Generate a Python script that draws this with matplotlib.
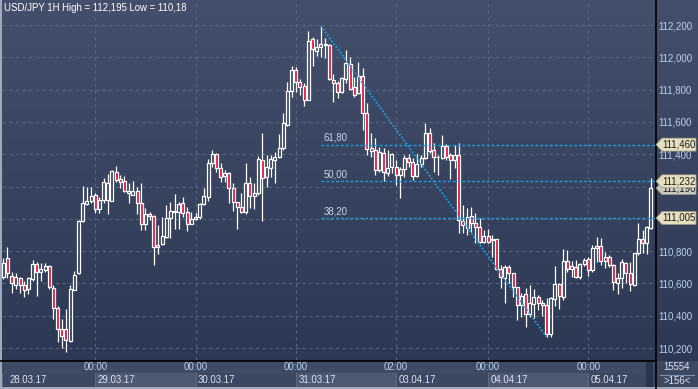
import numpy as np
import matplotlib
matplotlib.use('Agg')
from matplotlib import pyplot as plt
from matplotlib.patches import Polygon, Rectangle
from matplotlib.lines import Line2D
from matplotlib.colors import LinearSegmentedColormap
from matplotlib.transforms import blended_transform_factory

# USD/JPY hourly candles, 28.03.17 03:00 -> 05.04.17 14:00
open_ = [110.641, 110.755, 110.647, 110.592, 110.633, 110.590, 110.563, 110.625, 110.718, 110.668,
         110.683, 110.707, 110.569, 110.451, 110.321, 110.315, 110.245, 110.557, 110.662, 110.988,
         111.093, 111.109, 111.145, 111.062, 111.116, 111.118, 111.110, 111.290, 111.244, 111.234,
         111.162, 111.149, 111.170, 111.095, 110.967, 111.033, 111.017, 110.840, 110.842, 110.890,
         111.003, 111.044, 111.042, 111.100, 111.042, 110.970, 110.997, 111.010, 111.092, 111.137,
         111.343, 111.399, 111.312, 111.267, 111.282, 111.189, 111.102, 111.075, 111.044, 111.220,
         111.140, 111.162, 111.364, 111.257, 111.312, 111.364, 111.380, 111.436, 111.580, 111.792,
         111.921, 111.849, 111.822, 111.736, 112.112, 112.040, 112.061, 112.075, 112.076, 111.859,
         111.839, 111.787, 111.863, 111.958, 111.814, 111.777, 111.884, 111.653, 111.436, 111.426,
         111.302, 111.410, 111.282, 111.319, 111.319, 111.270, 111.307, 111.374, 111.353, 111.267,
         111.339, 111.378, 111.529, 111.426, 111.382, 111.374, 111.450, 111.395, 111.364, 111.395,
         110.988, 110.946, 111.017, 110.972, 110.951, 110.858, 110.893, 110.866, 110.873, 110.687,
         110.631, 110.700, 110.662, 110.576, 110.466, 110.532, 110.408, 110.470, 110.513, 110.480,
         110.466, 110.290, 110.501, 110.594, 110.518, 110.741, 110.690, 110.700, 110.637, 110.718,
         110.749, 110.683, 110.817, 110.834, 110.766, 110.766, 110.714, 110.600, 110.631, 110.724,
         110.662, 110.590, 110.786, 110.873, 110.848, 110.941]
high = [110.755, 110.823, 110.668, 110.662, 110.641, 110.614, 110.637, 110.744, 110.734, 110.724,
        110.724, 110.714, 110.590, 110.460, 110.377, 110.439, 110.590, 110.678, 110.992, 111.203,
        111.195, 111.195, 111.162, 111.135, 111.250, 111.277, 111.300, 111.328, 111.269, 111.265,
        111.224, 111.234, 111.195, 111.219, 111.070, 111.044, 111.021, 110.960, 111.012, 111.086,
        111.107, 111.154, 111.107, 111.137, 111.075, 111.044, 111.034, 111.096, 111.188, 111.368,
        111.426, 111.405, 111.343, 111.302, 111.292, 111.220, 111.106, 111.162, 111.343, 111.261,
        111.220, 111.389, 111.529, 111.395, 111.395, 111.416, 111.525, 111.653, 111.847, 111.946,
        111.942, 111.864, 111.839, 112.165, 112.128, 112.111, 112.195, 112.120, 112.082, 111.896,
        111.855, 111.880, 112.045, 112.003, 111.880, 111.969, 111.932, 111.715, 111.529, 111.498,
        111.446, 111.436, 111.426, 111.410, 111.364, 111.323, 111.395, 111.399, 111.374, 111.401,
        111.395, 111.591, 111.560, 111.467, 111.395, 111.518, 111.463, 111.410, 111.457, 111.471,
        111.086, 111.065, 111.075, 111.038, 111.003, 110.931, 110.935, 110.900, 110.873, 110.714,
        110.714, 110.714, 110.666, 110.580, 110.538, 110.569, 110.590, 110.565, 110.528, 110.497,
        110.507, 110.518, 110.707, 110.604, 110.811, 110.807, 110.741, 110.745, 110.724, 110.755,
        110.761, 110.838, 110.890, 110.880, 110.796, 110.776, 110.720, 110.666, 110.749, 110.735,
        110.735, 110.790, 110.976, 110.931, 110.955, 111.250]
low = [110.625, 110.631, 110.538, 110.563, 110.538, 110.513, 110.534, 110.614, 110.524, 110.617,
       110.670, 110.563, 110.377, 110.239, 110.198, 110.177, 110.239, 110.557, 110.658, 110.982,
       111.085, 111.095, 111.037, 111.037, 111.100, 111.033, 111.110, 111.228, 111.190, 111.166,
       111.095, 111.145, 111.027, 110.934, 110.930, 110.992, 110.714, 110.785, 110.836, 110.879,
       110.879, 110.940, 110.940, 111.013, 110.926, 110.968, 110.993, 110.997, 111.088, 111.112,
       111.319, 111.291, 111.229, 111.229, 111.100, 111.050, 110.940, 111.034, 111.030, 111.065,
       111.059, 111.148, 110.988, 111.195, 111.257, 111.220, 111.374, 111.426, 111.574, 111.752,
       111.787, 111.767, 111.699, 111.736, 111.946, 112.008, 112.004, 111.995, 111.859, 111.726,
       111.746, 111.777, 111.839, 111.797, 111.752, 111.773, 111.550, 111.395, 111.380, 111.271,
       111.292, 111.234, 111.265, 111.282, 111.209, 111.127, 111.261, 111.323, 111.240, 111.260,
       111.323, 111.368, 111.410, 111.292, 111.271, 111.368, 111.364, 111.244, 111.312, 110.914,
       110.910, 110.900, 110.921, 110.853, 110.848, 110.851, 110.848, 110.766, 110.683, 110.569,
       110.480, 110.600, 110.518, 110.373, 110.394, 110.331, 110.394, 110.384, 110.435, 110.398,
       110.270, 110.270, 110.460, 110.439, 110.497, 110.673, 110.637, 110.631, 110.627, 110.707,
       110.645, 110.673, 110.735, 110.714, 110.693, 110.704, 110.559, 110.534, 110.569, 110.600,
       110.555, 110.584, 110.776, 110.790, 110.782, 110.935]
close = [110.724, 110.662, 110.600, 110.637, 110.590, 110.559, 110.633, 110.718, 110.668, 110.689,
         110.707, 110.575, 110.451, 110.321, 110.274, 110.249, 110.563, 110.650, 110.988, 111.095,
         111.109, 111.141, 111.058, 111.118, 111.227, 111.225, 111.296, 111.240, 111.228, 111.172,
         111.174, 111.172, 111.095, 110.967, 111.033, 111.017, 110.827, 110.826, 110.892, 111.003,
         111.050, 111.050, 111.090, 111.038, 110.968, 110.996, 111.010, 111.092, 111.140, 111.343,
         111.399, 111.312, 111.260, 111.286, 111.189, 111.102, 111.071, 111.044, 111.220, 111.140,
         111.160, 111.368, 111.251, 111.323, 111.368, 111.385, 111.436, 111.591, 111.792, 111.921,
         111.847, 111.814, 111.736, 112.103, 112.050, 112.061, 112.082, 112.082, 111.863, 111.839,
         111.787, 111.869, 111.966, 111.803, 111.768, 111.884, 111.653, 111.430, 111.420, 111.302,
         111.415, 111.292, 111.317, 111.401, 111.270, 111.307, 111.374, 111.349, 111.264, 111.339,
         111.378, 111.529, 111.422, 111.385, 111.385, 111.450, 111.385, 111.364, 111.395, 110.993,
         110.962, 111.013, 110.972, 110.947, 110.858, 110.893, 110.858, 110.873, 110.687, 110.637,
         110.700, 110.662, 110.576, 110.466, 110.522, 110.408, 110.476, 110.513, 110.480, 110.466,
         110.286, 110.507, 110.594, 110.522, 110.741, 110.687, 110.707, 110.637, 110.718, 110.745,
         110.683, 110.817, 110.834, 110.741, 110.741, 110.714, 110.611, 110.631, 110.735, 110.666,
         110.596, 110.786, 110.873, 110.848, 110.947, 111.190]

time_ticks = [22, 46, 70, 94, 116, 140]
time_labels = ['00:00', '00:00', '00:00', '02:00', '00:00', '00:00']
day_starts = [0, 22, 46, 70, 94, 116, 140]
day_labels = ['28.03.17', '29.03.17', '30.03.17', '31.03.17', '03.04.17', '04.04.17', '05.04.17']
price_ticks = [110.2, 110.4, 110.6, 110.8, 111.0, 111.2, 111.4, 111.6, 111.8, 112.0, 112.2]
hidden_ticks = [111.0, 111.2]   # covered by the price tags in the original
fib_ratios = [0.382, 0.5, 0.618]
fib_names = ['38,20', '50,00', '61,80']
i_high = 76   # swing high candle
i_low = 130   # swing low candle
title = 'USD/JPY 1H High = 112,195 Low = 110,18'

W, H = 698, 389
def fx(px):
    return px / W
def fy(py):
    return 1 - py / H

plt.rcParams['font.family'] = ['Liberation Sans', 'DejaVu Sans']
fig = plt.figure(figsize=(W / 100, H / 100), dpi=100)

# gradient background
bg = fig.add_axes([0, 0, 1, 1], zorder=-10)
cmap = LinearSegmentedColormap.from_list('bg', ['#44506b', '#2a3652'])
bg.imshow(np.linspace(0, 1, 256).reshape(-1, 1), aspect='auto', cmap=cmap,
          extent=[0, 1, 0, 1], origin='upper')
bg.axis('off')

ax = fig.add_axes([fx(2), fy(360), fx(655) - fx(2), fy(0) - fy(360)])
ax.set_facecolor('none')
xmin, xmax = -0.31, 155.96
ax.set_xlim(xmin, xmax)
ax.set_ylim(110.126, 112.355)
for s in ax.spines.values():
    s.set_visible(False)
ax.set_xticks([])
ax.yaxis.tick_right()
ax.set_yticks(price_ticks)
ax.set_yticklabels(['' if p in hidden_ticks else f'{p:.3f}'.replace('.', ',') for p in price_ticks])
ax.tick_params(axis='y', length=0, pad=2.2, labelsize=6.9, labelcolor='#bcd0ef')

gcol = '#59657f'
for p in price_ticks:
    ax.axhline(p, color=gcol, lw=0.8, ls=(0, (3, 3)), zorder=0)
for t in time_ticks:
    ax.axvline(t, color=gcol, lw=0.8, ls=(0, (3, 3)), zorder=0)

# candles
o = np.array(open_)
h = np.array(high)
l = np.array(low)
c = np.array(close)
idx = np.arange(len(o))
top = np.maximum(o, c)
bot = np.minimum(o, c)
ax.vlines(idx, top, h, color='white', lw=0.9, zorder=2)
ax.vlines(idx, l, bot, color='white', lw=0.9, zorder=2)
fills = ['none' if cc >= oo else '#e3123c' for oo, cc in zip(o, c)]
ax.bar(idx, top - bot, width=0.72, bottom=bot, color=fills, edgecolor='white',
       linewidth=0.9, zorder=3)

# fibonacci retracement
fib_col = '#1a9fe6'
hi = h[i_high]
lo = l[i_low]
levels = [lo + r * (hi - lo) for r in fib_ratios]
for lv, name in zip(levels, fib_names):
    ax.hlines(lv, i_high, xmax, color=fib_col, lw=1.0, ls=(0, (2, 1.5)), zorder=4)
    ax.text(i_high + 0.6, lv + 0.012, name, fontsize=6.9, color='#c8d4ea',
            ha='left', va='bottom', zorder=5)
ax.plot([i_high, i_low], [hi, lo], color=fib_col, lw=1.3, ls=(0, (1, 1)), zorder=4)

# price tags on the right scale
trans = blended_transform_factory(fig.transFigure, ax.transData)
hh = 6.5 / 161.5
def tag(y, text, fc, z):
    pts = [(fx(656), y), (fx(662), y + hh), (fx(696), y + hh), (fx(696), y - hh), (fx(662), y - hh)]
    fig.add_artist(Polygon(pts, closed=True, transform=trans, fc=fc, ec='#9a957f', lw=0.5, zorder=z))
    fig.text(fx(662), y, text, transform=trans, fontsize=6.9, color='#1c1c1c',
             ha='left', va='center', zorder=z + 1)

tag(c[-1], f'{c[-1]:.3f}'.replace('.', ','), '#c9c9c4', 5)
for k, lv in enumerate(levels):
    tag(lv, f'{lv:.3f}'.replace('.', ','), '#e6dfbf', 7 + 2 * k)

fig.text(fx(4), fy(8), title, color='white', fontsize=6.9, ha='left', va='center')

# time / date panel
bax = fig.add_axes([fx(2), fy(387), fx(655) - fx(2), fy(361) - fy(387)])
bax.set_xlim(xmin, xmax)
bax.set_ylim(0, 1)
bax.set_facecolor('#3f4b65')
bax.set_xticks([])
bax.set_yticks([])
for s in bax.spines.values():
    s.set_visible(False)
bounds = [xmin] + day_starts[1:] + [xmax]
for k in range(len(day_labels)):
    shade = '#3c4862' if k % 2 == 0 else '#4d5973'
    bax.axvspan(bounds[k], bounds[k + 1], ymin=0, ymax=0.54, color=shade, lw=0)
    bax.axvline(bounds[k], ymin=0, ymax=0.54, color='#5c6882', lw=0.8)
    x0 = day_starts[k] + 0.6 if k > 0 else 1.5
    bax.text(x0, 0.27, day_labels[k], fontsize=6.9, color='#dbe4f3', ha='left', va='center')
for t, lab in zip(time_ticks, time_labels):
    bax.text(t, 0.77, lab, fontsize=6.9, color='#bcd0ef', ha='center', va='center')

fig.add_artist(Rectangle((fx(646), fy(387)), fx(653) - fx(646), fy(361) - fy(387),
                         transform=fig.transFigure, fc='#2a344c', lw=0))
fig.add_artist(Line2D([0, fx(655)], [fy(360.5), fy(360.5)], color='black', lw=1.2))
fig.add_artist(Line2D([fx(655.5), fx(655.5)], [0, 1], color='black', lw=1.2))
fig.add_artist(Rectangle((fx(656), 0), 1 - fx(656), fy(361), transform=fig.transFigure,
                         fc='#3c4862', lw=0))
fig.add_artist(Line2D([fx(660), fx(694)], [fy(374.5), fy(374.5)], color='#8090a8', lw=0.8))
fig.text(fx(677), fy(367.5), '15554', fontsize=6.9, color='#dbe4f3', ha='center', va='center')
fig.text(fx(677), fy(381), '>156<', fontsize=6.9, color='#dbe4f3', ha='center', va='center')

# outer frame
fig.add_artist(Rectangle((0, 0), fx(2), 1, transform=fig.transFigure, fc='#9eaabb', lw=0))
fig.add_artist(Rectangle((0, 0), 1, 1 - fy(2), transform=fig.transFigure, fc='#9eaabb', lw=0))

fig.savefig('out.png', dpi=100)
